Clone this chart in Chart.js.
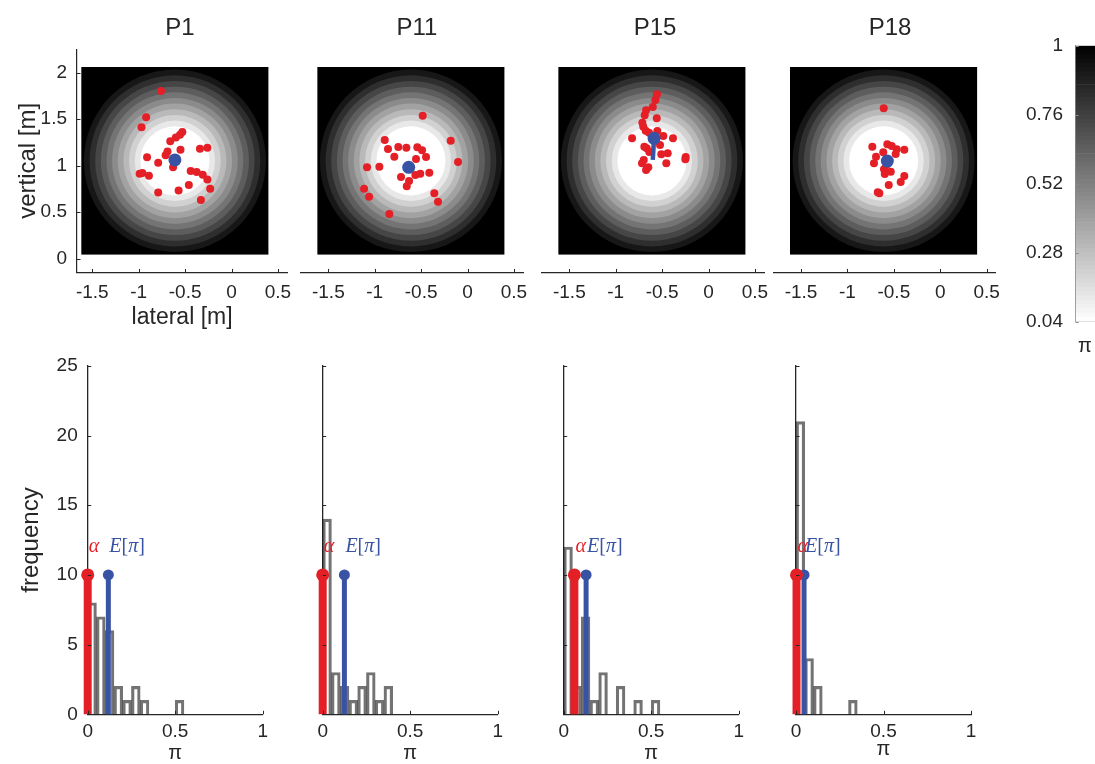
<!DOCTYPE html>
<html><head><meta charset="utf-8">
<script src="https://cdn.jsdelivr.net/npm/chart.js@4.4.1/dist/chart.umd.min.js"></script>
<style>
html,body{margin:0;padding:0;background:#fff;overflow:hidden}
#wrap{position:relative;width:1095px;height:764px;background:#fff}
#wrap canvas{position:absolute;left:0;top:0;pointer-events:none}
</style></head>
<body><div id="wrap"></div>
<script>
// ---------------- data ----------------
const panelTitles = ['P1', 'P11', 'P15', 'P18'];

const p1X = [-0.76,-0.92,-0.97,-0.53,-0.555,-0.60,-0.66,-0.34,-0.26,-0.55,-0.69,-0.71,-0.91,-0.79,-0.63,-0.99,-0.96,-0.89,-0.44,-0.375,-0.31,-0.26,-0.46,-0.57,-0.79,-0.23,-0.33];
const p1Y = [1.80,1.52,1.41,1.36,1.33,1.30,1.26,1.18,1.19,1.17,1.15,1.11,1.09,1.03,0.98,0.91,0.92,0.89,0.94,0.93,0.90,0.85,0.79,0.73,0.71,0.75,0.63];

const p11X = [-0.483,-0.892,-0.181,-0.857,-0.746,-0.659,-0.541,-0.490,-0.789,-0.447,-0.555,-0.102,-1.083,-0.950,-0.562,-0.509,-0.412,-0.717,-0.630,-0.655,-1.115,-1.061,-0.358,-0.318,-0.843];
const p11Y = [1.535,1.274,1.267,1.177,1.199,1.191,1.195,1.163,1.095,1.091,1.070,1.038,0.980,0.987,0.898,0.912,0.923,0.876,0.833,0.776,0.751,0.665,0.701,0.611,0.478];

const p15X = [-0.555,-0.573,-0.601,-0.673,-0.688,-0.558,-0.713,-0.703,-0.677,-0.641,-0.552,-0.824,-0.487,-0.383,-0.692,-0.666,-0.523,-0.638,-0.509,-0.440,-0.246,-0.250,-0.698,-0.717,-0.455,-0.649,-0.673];
const p15Y = [1.766,1.704,1.629,1.593,1.540,1.507,1.460,1.417,1.374,1.353,1.371,1.292,1.317,1.292,1.202,1.185,1.220,1.145,1.120,1.131,1.091,1.067,1.059,1.024,1.024,0.980,0.952];

const p18X = [-0.609,-0.570,-0.523,-0.732,-0.469,-0.387,-0.480,-0.614,-0.692,-0.714,-0.606,-0.533,-0.598,-0.387,-0.426,-0.555,-0.673,-0.656,-0.580];
const p18Y = [1.615,1.228,1.210,1.202,1.174,1.170,1.124,1.142,1.095,1.024,0.959,0.933,0.909,0.887,0.823,0.790,0.712,0.701,1.005];

const meanX = [-0.61, -0.634, -0.587, -0.57];
const meanY = [1.06, 0.98, 1.292, 1.048];
// path of the estimate (visible only in P15)
const p15PathX = [-0.601, -0.587];
const p15PathY = [1.06, 1.292];

// contour field (pi) : ring outer radii [m] of bands, band levels
const contourCenter = [-0.61, 1.05];
const contourExtentX = [-1.62, 0.40];
const contourExtentY = [0.04, 2.06];
const ringRadii = [0.372, 0.433, 0.494, 0.555, 0.616, 0.677, 0.737, 0.798, 0.859, 0.920, 0.981];
const contourLevels = [0.04, 0.12, 0.20, 0.28, 0.36, 0.44, 0.52, 0.60, 0.68, 0.76, 0.84, 0.92, 1.00];

// histograms of pi (bin width 0.05)
const binCenters = [0.025,0.075,0.125,0.175,0.225,0.275,0.325,0.375,0.425,0.475,0.525,0.575,0.625,0.675,0.725,0.775,0.825,0.875,0.925,0.975];
const histP1  = [8,7,6,2,1,2,1,0,0,0,1,0,0,0,0,0,0,0,0,0];
const histP11 = [14,3,2,1,2,3,1,2,0,0,0,0,0,0,0,0,0,0,0,0];
const histP15 = [12,2,7,1,3,0,2,0,1,0,1,0,0,0,0,0,0,0,0,0];
const histP18 = [21,4,2,0,0,0,1,0,0,0,0,0,0,0,0,0,0,0,0,0];
const alphaVals  = [0.0, 0.0, 0.061, 0.003];
const expectVals = [0.118, 0.124, 0.128, 0.046];
const stemHeight = 10;
const stemLabelY = 12;

// tick labels
const topXTicks = [-1.5, -1, -0.5, 0, 0.5];
const topYTicks = [0, 0.5, 1, 1.5, 2];
const histXTicks = [0, 0.5, 1];
const histYTicks = [0, 5, 10, 15, 20, 25];
const cbTicks = [0.04, 0.28, 0.52, 0.76, 1];

// ---------------- layout / style ----------------
const W = 1095, H = 764;
const FONT = '"Liberation Sans", Arial, Helvetica, sans-serif';
const SERIF = '"Liberation Serif", "DejaVu Serif", serif';
const INK = '#262626';
const RED = '#e41f26', BLUE = '#3953a4';
Chart.defaults.font.family = FONT;
Chart.defaults.color = INK;

const TOP = {ymin: -0.15, ymax: 2.25, top: 49.25, bottom: 272.45};
const topGeom = [
  {xmin: -1.665, xmax: 0.6, left: 77,    right: 287.2},
  {xmin: -1.8,   xmax: 0.6, left: 300.5, right: 523.2},
  {xmin: -1.8,   xmax: 0.6, left: 541.5, right: 764.2},
  {xmin: -1.8,   xmax: 0.6, left: 773.2, right: 995.9}
];
const titlePosX = [180, 417, 655, 890], titlePosY = 28;
const HIST = {top: 365.8, bottom: 714.3, width: 175};
const histLeft = [87.7, 322.7, 563.7, 796];
const piTitlePad = [-1.3, -1.3, -1.3, 2.7];
const CB = {left: 1075.7, right: 1095, top: 45.7, bottom: 321.7};
const fmt = v => String(v);

function mkCtx() {
  const c = document.createElement('canvas');
  c.width = W; c.height = H; c.style.width = W + 'px'; c.style.height = H + 'px';
  document.getElementById('wrap').appendChild(c);
  return c.getContext('2d');
}
function fixY(w) { return s => { s.width = w; s.paddingTop = s.paddingBottom = s.paddingLeft = s.paddingRight = 0; }; }
function fixX(h) { return s => { s.height = h; s.paddingTop = s.paddingBottom = s.paddingLeft = s.paddingRight = 0; }; }
function setTicks(arr) { return s => { s.ticks = arr.map(v => ({value: v})); }; }
function baseOpts(pad) {
  return {
    responsive: false, animation: false, events: [], devicePixelRatio: 1,
    layout: {padding: pad, autoPadding: false},
    plugins: {legend: {display: false}, tooltip: {enabled: false}, title: {display: false}}
  };
}
function innerTicks(ids, len, color, width) {
  return {
    id: 'innerTicks',
    afterDraw(chart) {
      const ctx = chart.ctx, a = chart.chartArea;
      ctx.save(); ctx.strokeStyle = color; ctx.lineWidth = width;
      ctx.beginPath();
      for (const id of ids) {
        const s = chart.scales[id];
        for (const t of s.ticks) {
          const p = Math.round(s.getPixelForValue(t.value)) + 0.5;
          if (s.isHorizontal()) { ctx.moveTo(p, a.bottom); ctx.lineTo(p, a.bottom - len); }
          else { ctx.moveTo(a.left, p); ctx.lineTo(a.left + len, p); }
        }
      }
      ctx.stroke(); ctx.restore();
    }
  };
}
function textPlugin(items) {
  return {
    id: 'texts',
    afterDraw(chart) {
      const ctx = chart.ctx;
      ctx.save();
      for (const it of items) {
        ctx.font = it.font; ctx.fillStyle = it.color || INK;
        ctx.textAlign = it.align || 'center'; ctx.textBaseline = 'middle';
        ctx.fillText(it.text, it.x, it.y);
      }
      ctx.restore();
    }
  };
}
function bandGray(k) { return Math.round(255 * (1 - k / (contourLevels.length - 2))); }
const ringsPlugin = {
  id: 'rings',
  beforeDatasetsDraw(chart) {
    const {ctx, scales: {x, y}} = chart;
    const l = x.getPixelForValue(contourExtentX[0]), r = x.getPixelForValue(contourExtentX[1]);
    const t = y.getPixelForValue(contourExtentY[1]), b = y.getPixelForValue(contourExtentY[0]);
    const cx = x.getPixelForValue(contourCenter[0]), cy = y.getPixelForValue(contourCenter[1]);
    ctx.save();
    ctx.beginPath(); ctx.rect(l, t, r - l, b - t); ctx.clip();
    const nb = contourLevels.length - 1;
    let g = bandGray(nb - 1);
    ctx.fillStyle = `rgb(${g},${g},${g})`;
    ctx.fillRect(l, t, r - l, b - t);
    for (let k = ringRadii.length - 1; k >= 0; k--) {
      const rx = Math.abs(x.getPixelForValue(contourCenter[0] + ringRadii[k]) - cx);
      const ry = Math.abs(y.getPixelForValue(contourCenter[1] + ringRadii[k]) - cy);
      g = bandGray(k);
      ctx.beginPath(); ctx.ellipse(cx, cy, rx, ry, 0, 0, Math.PI * 2);
      ctx.fillStyle = `rgb(${g},${g},${g})`; ctx.fill();
    }
    ctx.restore();
  }
};
function stemLabels(a, e) {
  return {
    id: 'stemLabels',
    afterDatasetsDraw(chart) {
      const {ctx, scales: {x, y}} = chart;
      const yy = y.getPixelForValue(stemLabelY);
      ctx.save(); ctx.textBaseline = 'middle'; ctx.textAlign = 'left';
      ctx.font = 'italic 20px ' + SERIF; ctx.fillStyle = RED;
      ctx.fillText('α', x.getPixelForValue(a) + 1, yy);
      let px = x.getPixelForValue(e) + 1;
      ctx.fillStyle = BLUE;
      for (const [t, it] of [['E', true], ['[', false], ['π', true], [']', false]]) {
        ctx.font = (it ? 'italic ' : '') + '20px ' + SERIF;
        ctx.fillText(t, px, yy); px += ctx.measureText(t).width;
      }
      ctx.restore();
    }
  };
}

// ---------------- top panels ----------------
const ptsX = [p1X, p11X, p15X, p18X], ptsY = [p1Y, p11Y, p15Y, p18Y];
const paths = [null, null, [p15PathX, p15PathY], null];

function topChart(i) {
  const g = topGeom[i];
  const first = i === 0;
  const wy = first ? g.left : 0, hx = 60;
  const pad = {left: g.left - wy, top: TOP.top, right: W - g.right, bottom: H - TOP.bottom - hx};
  const datasets = [];
  datasets.push({data: [{x: meanX[i], y: meanY[i]}], pointRadius: 6.5, backgroundColor: BLUE, borderWidth: 0, clip: false});
  if (paths[i]) datasets.push({data: paths[i][0].map((v, k) => ({x: v, y: paths[i][1][k]})), showLine: true,
    borderColor: BLUE, borderWidth: 4.5, pointRadius: 0, clip: false});
  datasets.push({data: ptsX[i].map((v, k) => ({x: v, y: ptsY[i][k]})), pointRadius: 4, backgroundColor: RED, borderWidth: 0, clip: false});
  const opts = baseOpts(pad);
  opts.scales = {
    x: {type: 'linear', min: g.xmin, max: g.xmax, afterBuildTicks: setTicks(topXTicks), afterFit: fixX(hx),
      grid: {display: false, drawTicks: false}, border: {display: true, color: INK, width: 1.2},
      ticks: {autoSkip: false, maxRotation: 0, padding: 9, font: {size: 19}, color: INK, callback: fmt},
      title: {display: first, text: 'lateral [m]', font: {size: 23}, color: INK, padding: {top: 0, bottom: 1}}},
    y: {type: 'linear', display: first, min: TOP.ymin, max: TOP.ymax, afterBuildTicks: setTicks(topYTicks), afterFit: fixY(wy),
      grid: {display: false, drawTicks: false}, border: {display: true, color: INK, width: 1.2},
      ticks: {autoSkip: false, padding: 10, font: {size: 19}, color: INK, callback: fmt},
      title: {display: true, text: 'vertical [m]', font: {size: 24}, color: INK, padding: {top: 13.5, bottom: 0}}}
  };
  new Chart(mkCtx(), {
    type: 'scatter', data: {datasets}, options: opts,
    plugins: [ringsPlugin, innerTicks(first ? ['x', 'y'] : ['x'], 3.5, INK, 1),
      textPlugin([{text: panelTitles[i], x: titlePosX[i], y: titlePosY, font: '24px ' + FONT}])]
  });
}

// ---------------- histograms ----------------
const hists = [histP1, histP11, histP15, histP18];
function histChart(i) {
  const l = histLeft[i], r = l + HIST.width;
  const wy = l, hx = H - HIST.bottom;
  const pad = {left: 0, top: HIST.top, right: W - r, bottom: 0};
  const a = alphaVals[i], e = expectVals[i];
  const datasets = [
    {type: 'line', data: [{x: a, y: 0}, {x: a, y: stemHeight}], borderColor: RED, borderWidth: 8, borderCapStyle: 'butt',
      pointRadius: [0, 6.5], pointBackgroundColor: RED, pointBorderWidth: 0, clip: false},
    {type: 'line', data: [{x: e, y: 0}, {x: e, y: stemHeight}], borderColor: BLUE, borderWidth: 5, borderCapStyle: 'butt',
      pointRadius: [0, 5.5], pointBackgroundColor: BLUE, pointBorderWidth: 0, clip: false},
    {type: 'bar', data: binCenters.map((c, k) => ({x: c, y: hists[i][k]})), backgroundColor: 'rgba(0,0,0,0)',
      borderColor: 'rgba(0,0,0,0.55)', borderWidth: 2.5, barPercentage: 1, categoryPercentage: 1, clip: false}
  ];
  const opts = baseOpts(pad);
  opts.scales = {
    x: {type: 'linear', min: 0, max: 1, offset: false, z: 1, afterBuildTicks: setTicks(histXTicks), afterFit: fixX(hx),
      grid: {display: false, drawTicks: false}, border: {display: true, color: INK, width: 1.3},
      ticks: {autoSkip: false, maxRotation: 0, padding: 6, font: {size: 19}, color: INK, callback: fmt},
      title: {display: true, text: 'π', font: {size: 20}, color: INK, padding: {top: 0, bottom: piTitlePad[i]}}},
    y: {type: 'linear', min: 0, max: 25, z: 1, afterBuildTicks: setTicks(histYTicks), afterFit: fixY(wy),
      grid: {display: false, drawTicks: false}, border: {display: true, color: INK, width: 1.3},
      ticks: {display: i === 0, autoSkip: false, padding: 10, font: {size: 19}, color: INK, callback: fmt},
      title: {display: i === 0, text: 'frequency', font: {size: 24}, color: INK, padding: {top: 17.3, bottom: 0}}}
  };
  new Chart(mkCtx(), {
    type: 'bar', data: {datasets}, options: opts,
    plugins: [stemLabels(a, e), innerTicks(['x', 'y'], 3.5, INK, 1)]
  });
}

// ---------------- colorbar ----------------
function colorbarChart() {
  const wy = 60, hx = 0;
  const pad = {left: CB.left - wy, top: CB.top, right: W - CB.right, bottom: H - CB.bottom - hx};
  const lo = contourLevels[0], hi = contourLevels[contourLevels.length - 1];
  const n = 64, step = (hi - lo) / n;
  const datasets = [];
  for (let k = 0; k < n; k++) {
    const g = Math.round(255 * (1 - (k + 0.5) / n));
    datasets.push({data: [[lo + k * step, lo + (k + 1) * step]], backgroundColor: `rgb(${g},${g},${g})`,
      borderWidth: 0, barPercentage: 1, categoryPercentage: 1, grouped: false});
  }
  const opts = baseOpts(pad);
  opts.scales = {
    x: {type: 'category', offset: true, z: 1, afterFit: fixX(hx), grid: {display: false, drawTicks: false},
      border: {display: true, color: '#8a8a8a', width: 1}, ticks: {display: false}},
    y: {type: 'linear', min: lo, max: hi, z: 1, afterBuildTicks: setTicks(cbTicks), afterFit: fixY(wy),
      grid: {display: false, drawTicks: false}, border: {display: true, color: '#8a8a8a', width: 1},
      ticks: {autoSkip: false, padding: 12.7, font: {size: 19}, color: INK, callback: fmt}}
  };
  new Chart(mkCtx(), {
    type: 'bar', data: {labels: [''], datasets}, options: opts,
    plugins: [innerTicks(['y'], 3, '#8a8a8a', 1), textPlugin([{text: 'π', x: 1085, y: 346, font: '20px ' + FONT}])]
  });
}

for (let i = 0; i < 4; i++) topChart(i);
for (let i = 0; i < 4; i++) histChart(i);
colorbarChart();
</script>
</body></html>
